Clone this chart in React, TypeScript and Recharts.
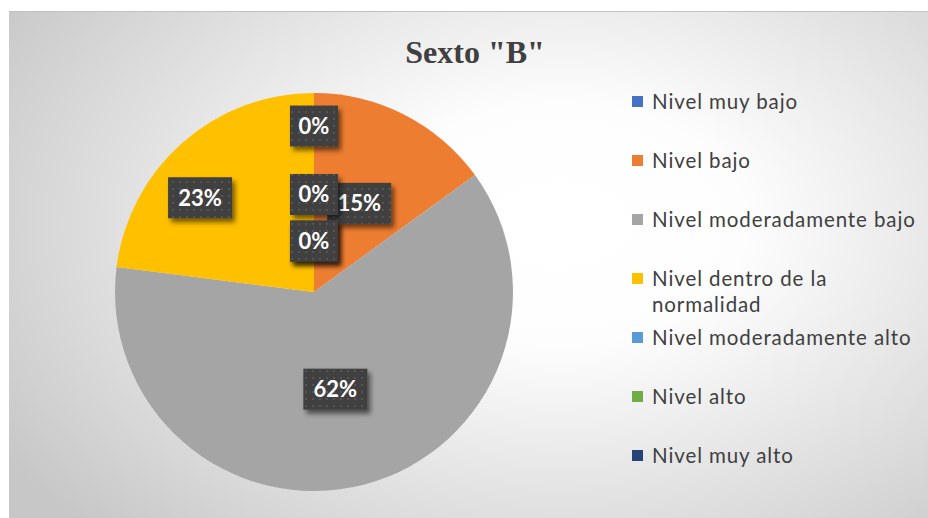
import React from "react";
import { Cell, Legend, Pie, PieChart } from "recharts";

const categorias = [
  "Nivel muy bajo",
  "Nivel bajo",
  "Nivel moderadamente bajo",
  "Nivel dentro de la normalidad",
  "Nivel moderadamente alto",
  "Nivel alto",
  "Nivel muy alto",
];
const porcentajes = [0, 15, 62, 23, 0, 0, 0];
const colores = ["#4472C4", "#ED7D31", "#A5A5A5", "#FFC000", "#5B9BD5", "#70AD47", "#264478"];

// best-fit placement like Excel: fraction of radius + clockwise shift (deg)
const labelRadio = [0.834, 0.5, 0.5, 0.743, 0.49, 0.256, 0.256];
const labelGiro = [0, 0, 2, -9, 0, 0, 0];

const data = categorias.map((nombre, i) => ({ nombre, valor: porcentajes[i] }));

const W = 919;
const H = 507;
const RAD = Math.PI / 180;

function EtiquetaCaja(props: any) {
  const { cx, cy, midAngle, outerRadius, index, value } = props;
  const ang = (midAngle - labelGiro[index]) * RAD;
  const r = outerRadius * labelRadio[index];
  const x = cx + r * Math.cos(-ang);
  const y = cy + r * Math.sin(-ang);
  const txt = `${value}%`;
  const w = 16 * txt.length + 16;
  const h = 41;
  return (
    <g>
      <rect
        x={x - w / 2}
        y={y - h / 2}
        width={w}
        height={h}
        fill="url(#puntos)"
        filter="url(#sombraEtiqueta)"
      />
      <text
        x={x}
        y={y + 8}
        textAnchor="middle"
        fill="#ffffff"
        fontFamily="Lato, 'Open Sans', sans-serif"
        fontWeight={700}
        fontSize={22}
      >
        {txt}
      </text>
    </g>
  );
}

// legend drawn in the original category order
function Leyenda() {
  return (
    <div
      style={{
        fontFamily: "Lato, 'Open Sans', sans-serif",
        fontSize: 20.5,
        letterSpacing: 0.9,
        color: "#404040",
      }}
    >
      {categorias.map((nombre, i) => (
        <div key={nombre} style={{ height: 59, display: "flex", alignItems: "flex-start" }}>
          <span
            style={{
              width: 11,
              height: 11,
              background: colores[i],
              marginTop: 8,
              marginRight: 9,
              flex: "0 0 auto",
            }}
          />
          <span style={{ lineHeight: "26px", width: 272 }}>{nombre}</span>
        </div>
      ))}
    </div>
  );
}

export default function App() {
  return (
    <div
      style={{
        position: "absolute",
        left: 9,
        top: 11,
        width: W,
        height: H,
        borderTop: "1px solid #c2c2c2",
        boxSizing: "border-box",
        background:
          "radial-gradient(ellipse 72% 85% at 60% 42%, #ffffff 0%, #fdfdfd 28%, #c7c7c7 100%)",
      }}
    >
      <style>{`.recharts-pie-sectors { filter: drop-shadow(0 0 7px rgba(0,0,0,0.22)); }`}</style>
      <div
        style={{
          position: "absolute",
          left: 316,
          width: 300,
          top: 24,
          textAlign: "center",
          fontFamily: "'Liberation Serif', 'Times New Roman', serif",
          fontWeight: 700,
          fontSize: 32,
          lineHeight: "32px",
          color: "#404040",
        }}
      >
        Sexto "B"
      </div>
      <PieChart
        width={W}
        height={H - 1}
        margin={{ top: 0, right: 0, bottom: 0, left: 0 }}
        style={{ position: "absolute", left: 0, top: -1 }}
      >
        <defs>
          <pattern id="puntos" width="7" height="7" patternUnits="userSpaceOnUse">
            <rect width="7" height="7" fill="#3f3f3f" />
            <rect x="2" y="2" width="2" height="2" fill="#555555" />
          </pattern>
          <filter id="sombraEtiqueta" x="-30%" y="-30%" width="170%" height="170%">
            <feDropShadow dx="3" dy="4" stdDeviation="2.5" floodColor="#000" floodOpacity="0.55" />
          </filter>
        </defs>
        <Pie
          data={data}
          dataKey="valor"
          nameKey="nombre"
          cx={305}
          cy={281}
          outerRadius={199}
          startAngle={90}
          endAngle={-270}
          stroke="none"
          labelLine={false}
          label={EtiquetaCaja}
          isAnimationActive={false}
        >
          {data.map((d, i) => (
            <Cell key={d.nombre} fill={colores[i]} />
          ))}
        </Pie>
        <Legend
          layout="vertical"
          align="right"
          verticalAlign="top"
          content={Leyenda}
          wrapperStyle={{ left: 623, top: 77, width: 296 }}
        />
      </PieChart>
    </div>
  );
}
